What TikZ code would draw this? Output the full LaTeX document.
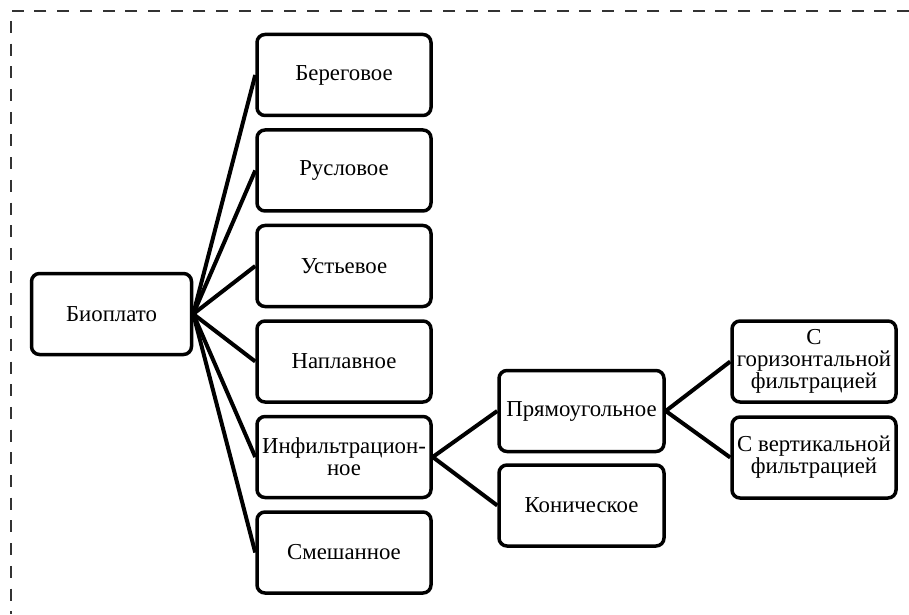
\documentclass[tikz,border=0pt]{standalone}
\usepackage{fontspec}
\setmainfont{Liberation Serif}
\newfontfamily\boxfont{Liberation Serif}
\usetikzlibrary{positioning}
\tikzset{
  box/.style={draw, line width=3.5pt, rounded corners=8pt, minimum height=81pt, align=center,
    font=\boxfont\fontsize{22.8}{22}\selectfont, inner sep=1pt},
  link/.style={line width=4pt},
  frame/.style={line width=1.5pt, draw=black!80, dash pattern=on 12pt off 10.7pt}
}
\begin{document}
\begin{tikzpicture}[x=1pt, y=1pt, node distance=11pt]
  \useasboundingbox (0,0) rectangle (909,614);
  \draw[frame] (909,603) -- (11,603) -- (11,0);

  \node[box, minimum width=160pt] (bio) at (111.5,300) {Биоплато};
  \node[box, minimum width=174pt, above right=154.5pt and 62pt of bio] (bereg) {Береговое};
  \node[box, minimum width=174pt, below=of bereg] (rusl) {Русловое};
  \node[box, minimum width=174pt, below=of rusl] (ustev) {Устьевое};
  \node[box, minimum width=174pt, below=of ustev] (naplav) {Наплавное};
  \node[box, minimum width=174pt, below=of naplav] (infil) {Инфильтрацион-\\ное};
  \node[box, minimum width=174pt, below=of infil] (smesh) {Смешанное};

  \node[box, minimum width=165pt, right=64.5pt of infil, yshift=46pt] (pryam) {Прямоугольное};
  \node[box, minimum width=165pt, below=10pt of pryam] (konich) {Коническое};

  \node[box, minimum width=164pt, right=64.5pt of pryam, yshift=49.5pt] (gorfilt) {С\\горизонтальной\\фильтрацией};
  \node[box, minimum width=164pt, below=11.5pt of gorfilt] (vertfilt) {С вертикальной\\фильтрацией};

  \draw[link] (bio.east) -- (bereg.west);
  \draw[link] (bio.east) -- (rusl.west);
  \draw[link] (bio.east) -- (ustev.west);
  \draw[link] (bio.east) -- (naplav.west);
  \draw[link] (bio.east) -- (infil.west);
  \draw[link] (bio.east) -- (smesh.west);

  \draw[link] (infil.east) -- (pryam.west);
  \draw[link] (infil.east) -- (konich.west);

  \draw[link] (pryam.east) -- (gorfilt.west);
  \draw[link] (pryam.east) -- (vertfilt.west);
\end{tikzpicture}
\end{document}
